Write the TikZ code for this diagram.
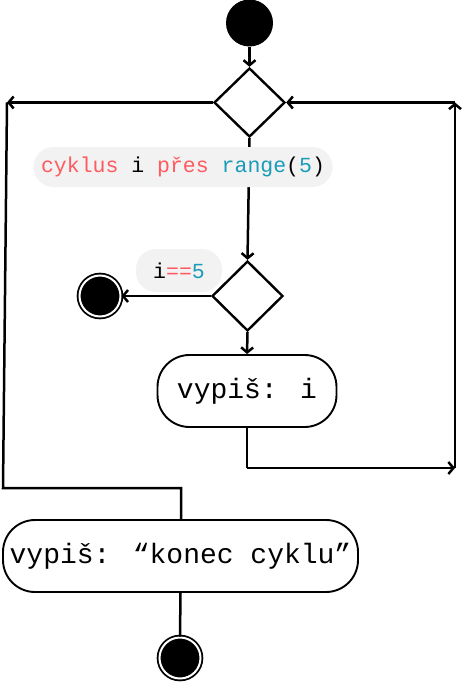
\documentclass[tikz,border=0pt]{standalone}
\usepackage{fontspec}
\newfontfamily\codefont{Liberation Mono}
\usetikzlibrary{shapes.geometric,arrows.meta}
\definecolor{kwred}{HTML}{FF5A5F}
\definecolor{kwteal}{HTML}{1A9CB8}
\definecolor{labgray}{HTML}{F2F2F2}
\tikzset{
  line/.style={line width=2.5pt},
  arr/.style={line width=2.5pt,-{Straight Barb[length=5pt,width=12pt]}},
  startnode/.style={circle,fill=black,minimum size=47pt,inner sep=0pt},
  endnode/.style={circle,fill=black,draw=black,line width=1.8pt,double=white,double distance=2pt,minimum size=41pt,inner sep=0pt},
  decision/.style={diamond,draw=black,line width=2.4pt,inner sep=0pt},
  actionbox/.style={rectangle,draw=black,line width=1.9pt,rounded corners=32pt,minimum height=72pt,inner sep=0pt,font=\codefont\fontsize{28}{30}\selectfont},
  guard/.style={rectangle,fill=labgray,rounded corners=20pt,inner sep=0pt,font=\codefont\fontsize{21.5}{24}\selectfont}
}
\begin{document}
\begin{tikzpicture}[x=1pt,y=-1pt]
\useasboundingbox (0,0) rectangle (461,682);
\node[startnode] (start) at (249.5,23) {};
\node[decision,minimum width=71pt,minimum height=69pt] (d1) at (249.5,102.5) {};
\node[decision,minimum width=71pt,minimum height=70pt] (d2) at (247.5,296) {};
\node[actionbox,minimum width=179pt] (a1) at (247,391) {vypiš: i};
\node[actionbox,minimum width=355pt] (a2) at (180.5,556) {vypiš: “konec cyklu”};
\node[endnode] (end1) at (100,296) {};
\node[endnode] (end2) at (180,658) {};
\coordinate (L1) at (7,102.5);
\coordinate (L2) at (3,488);
\coordinate (L3) at (181,488);
\coordinate (R1) at (247,468);
\coordinate (R2) at (455,468);
\coordinate (R3) at (455,102.5);
% connectors
\draw[arr] (start) -- (d1.north);
\draw[arr] (d1.west) -- (L1);
\draw[line] (L1) -- (L2) -- (L3) -- (L3 |- a2.north);
\draw[arr] (d1.south) -- (d2.north);
\draw[arr] (d2.west) -- (end1.east);
\draw[arr] (d2.south) -- (a1.north);
\draw[line] (a1.south) -- (R1);
\draw[arr] (R1) -- (R2);
\draw[arr] (R2) -- (R3);
\draw[arr] (R3) -- (d1.east);
\draw[line] (a2.south) -- (end2.north);
% guards
\node[guard,minimum width=299pt,minimum height=40pt] (g1) at (183,167)
  {\textcolor{kwred}{cyklus} i \textcolor{kwred}{přes} \textcolor{kwteal}{range}(\textcolor{kwteal}{5})};
\node[guard,minimum width=86pt,minimum height=43pt] (g2) at (179,270.5)
  {i\textcolor{kwred}{==}\textcolor{kwteal}{5}};
\end{tikzpicture}
\end{document}
